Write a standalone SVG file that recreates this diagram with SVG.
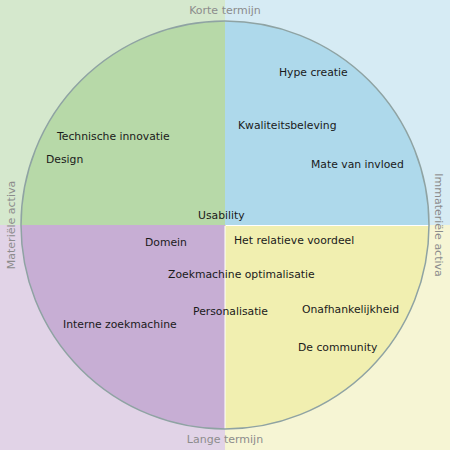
<svg xmlns="http://www.w3.org/2000/svg" width="450" height="450" viewBox="0 0 450 450">
<style>
.lbl{font-family:"DejaVu Sans",Verdana,sans-serif;font-size:10.8px;fill:#1a1a1a}
.axis{font-family:"DejaVu Sans",Verdana,sans-serif;font-size:11px;fill:#8c8c8c;text-anchor:middle}
</style>
<g id="background">
<rect x="0" y="0" width="225" height="225" fill="#d5e8cd"/>
<rect x="225" y="0" width="225" height="225" fill="#d6ebf4"/>
<rect x="0" y="225" width="225" height="225" fill="#e1d3e7"/>
<rect x="225" y="225" width="225" height="225" fill="#f6f5d4"/>
</g>
<g id="circle">
<path d="M225,225 L225,21 A204,204 0 0 0 21,225 Z" fill="#b7d9a8"/>
<path d="M225,225 L429,225 A204,204 0 0 0 225,21 Z" fill="#aed9eb"/>
<path d="M225,225 L21,225 A204,204 0 0 0 225,429 Z" fill="#c7aed4"/>
<path d="M225,225 L225,429 A204,204 0 0 0 429,225 Z" fill="#f1efb0"/>
<line x1="225" y1="226" x2="225" y2="429" stroke="#ffffff" stroke-width="1"/>
<line x1="226" y1="225.5" x2="429" y2="225.5" stroke="#ffffff" stroke-width="1"/>
<circle cx="225" cy="225" r="204" fill="none" stroke="#8fa3a3" stroke-width="1.5"/>
</g>
<g id="axes">
<text class="axis" x="225" y="14">Korte termijn</text>
<text class="axis" x="225" y="443">Lange termijn</text>
<text class="axis" transform="translate(15,225) rotate(-90)">Materiële activa</text>
<text class="axis" transform="translate(435,225) rotate(90)">Immateriële activa</text>
</g>
<g id="labels">
<text class="lbl" x="279" y="76">Hype creatie</text>
<text class="lbl" x="238" y="129">Kwaliteitsbeleving</text>
<text class="lbl" x="311" y="168">Mate van invloed</text>
<text class="lbl" x="57" y="140">Technische innovatie</text>
<text class="lbl" x="46" y="163">Design</text>
<text class="lbl" x="198" y="219">Usability</text>
<text class="lbl" x="145" y="246">Domein</text>
<text class="lbl" x="234" y="244">Het relatieve voordeel</text>
<text class="lbl" x="168" y="278">Zoekmachine optimalisatie</text>
<text class="lbl" x="193" y="315">Personalisatie</text>
<text class="lbl" x="302" y="313">Onafhankelijkheid</text>
<text class="lbl" x="63" y="328">Interne zoekmachine</text>
<text class="lbl" x="298" y="351">De community</text>
</g>
</svg>
